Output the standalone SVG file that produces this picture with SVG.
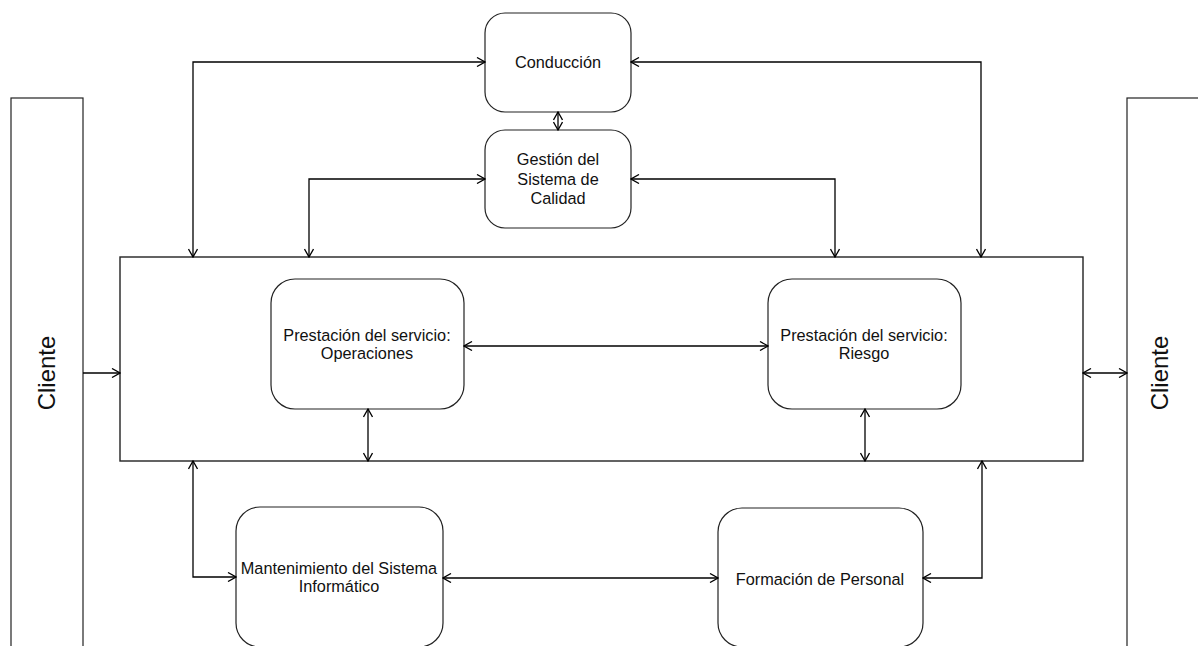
<svg xmlns="http://www.w3.org/2000/svg" width="1198" height="646" viewBox="0 0 1198 646">
<defs>
<marker id="arr" viewBox="0 0 10 10" refX="9" refY="5" markerWidth="10" markerHeight="10" markerUnits="userSpaceOnUse" orient="auto-start-reverse">
<path d="M1,0.5 L9,5 L1,9.5" fill="none" stroke="#000" stroke-width="1.3"/>
</marker>
<style>
.box{fill:#fff;stroke:#222;stroke-width:1.2}
.lbl{font-family:"Liberation Sans",Arial,sans-serif;font-size:16.3px;fill:#111;text-anchor:middle}
.cli{font-family:"Liberation Sans",Arial,sans-serif;font-size:24px;fill:#111;text-anchor:middle}
.con{fill:none;stroke:#000;stroke-width:1.3}
</style>
</defs>
<rect width="1198" height="646" fill="#fff"/>
<g id="cliente-izq">
<rect class="box" x="11" y="98" width="72" height="560"/>
<text class="cli" transform="translate(55,373) rotate(-90)">Cliente</text>
</g>
<g id="cliente-der">
<rect class="box" x="1127" y="98" width="80" height="560"/>
<text class="cli" transform="translate(1168,373) rotate(-90)">Cliente</text>
</g>
<g id="proceso">
<rect x="120" y="257" width="963" height="204" fill="#fff" stroke="#222" stroke-width="1.4"/>
</g>
<g id="conduccion">
<rect class="box" x="485" y="13" width="146" height="99" rx="20"/>
<text class="lbl" x="558" y="68">Conducción</text>
</g>
<g id="gestion">
<rect class="box" x="485" y="130" width="146" height="98" rx="20"/>
<text class="lbl" x="558" y="165">Gestión del</text>
<text class="lbl" x="558" y="185">Sistema de</text>
<text class="lbl" x="558" y="204">Calidad</text>
</g>
<g id="operaciones">
<rect class="box" x="271" y="279" width="193" height="130" rx="24"/>
<text class="lbl" x="367" y="341">Prestación del servicio:</text>
<text class="lbl" x="367" y="359">Operaciones</text>
</g>
<g id="riesgo">
<rect class="box" x="768" y="279" width="193" height="130" rx="24"/>
<text class="lbl" x="864" y="341">Prestación del servicio:</text>
<text class="lbl" x="864" y="359">Riesgo</text>
</g>
<g id="mantenimiento">
<rect class="box" x="236" y="507" width="207" height="140" rx="24"/>
<text class="lbl" x="339" y="574">Mantenimiento del Sistema</text>
<text class="lbl" x="339" y="592">Informático</text>
</g>
<g id="formacion">
<rect class="box" x="718" y="508" width="205" height="139" rx="24"/>
<text class="lbl" x="820" y="585">Formación de Personal</text>
</g>
<g id="connectors">
<path class="con" d="M193,257 V62 H485" marker-start="url(#arr)" marker-end="url(#arr)"/>
<path class="con" d="M309,257 V179 H485" marker-start="url(#arr)" marker-end="url(#arr)"/>
<path class="con" d="M981,257 V62 H631" marker-start="url(#arr)" marker-end="url(#arr)"/>
<path class="con" d="M835,257 V179 H631" marker-start="url(#arr)" marker-end="url(#arr)"/>
<path class="con" d="M558,112 V130" marker-start="url(#arr)" marker-end="url(#arr)"/>
<path class="con" d="M83,373 H120" marker-end="url(#arr)"/>
<path class="con" d="M1083,373 H1127" marker-start="url(#arr)" marker-end="url(#arr)"/>
<path class="con" d="M464,346 H768" marker-start="url(#arr)" marker-end="url(#arr)"/>
<path class="con" d="M368,409 V461" marker-start="url(#arr)" marker-end="url(#arr)"/>
<path class="con" d="M865,409 V461" marker-start="url(#arr)" marker-end="url(#arr)"/>
<path class="con" d="M193,461 V577 H236" marker-start="url(#arr)" marker-end="url(#arr)"/>
<path class="con" d="M443,578 H718" marker-start="url(#arr)" marker-end="url(#arr)"/>
<path class="con" d="M982,461 V578 H923" marker-start="url(#arr)" marker-end="url(#arr)"/>
</g>
</svg>
